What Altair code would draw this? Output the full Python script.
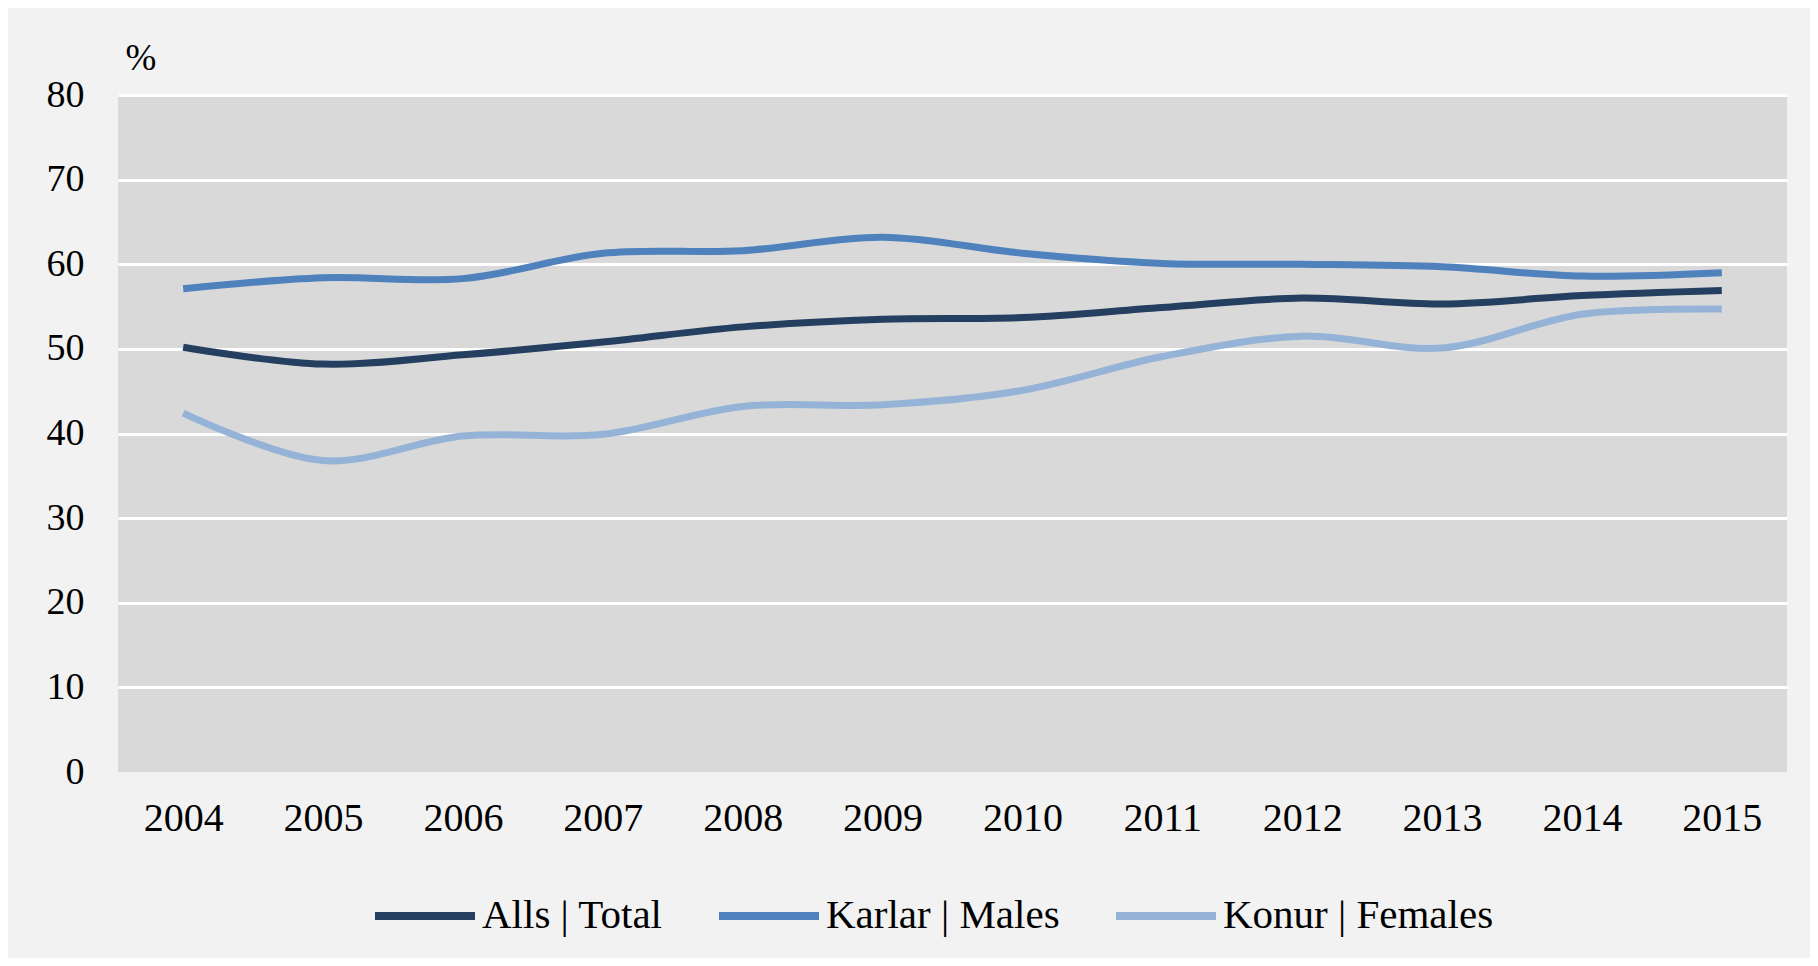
import altair as alt
import pandas as pd

years = ["2004", "2005", "2006", "2007", "2008", "2009", "2010", "2011", "2012", "2013", "2014", "2015"]
total = [50.2, 48.2, 49.3, 50.8, 52.6, 53.5, 53.7, 54.9, 56.0, 55.3, 56.3, 56.9]
males = [57.1, 58.4, 58.3, 61.3, 61.6, 63.2, 61.3, 60.1, 60.0, 59.7, 58.6, 59.0]
females = [42.4, 36.8, 39.7, 39.9, 43.2, 43.4, 45.1, 49.1, 51.5, 50.1, 54.1, 54.7]

series_names = ["Alls | Total", "Karlar | Males", "Konur | Females"]
series_colors = ["#243F60", "#4F81BD", "#95B3D7"]
y_ticks = [0, 10, 20, 30, 40, 50, 60, 70, 80]

rows = []
for name, vals in zip(series_names, [total, males, females]):
    for yr, v in zip(years, vals):
        rows.append({"year": yr, "value": v, "series": name})
df = pd.DataFrame(rows)

FONT = "Liberation Serif"

chart = alt.Chart(df).mark_line(
    interpolate="catmull-rom", strokeWidth=7
).encode(
    x=alt.X("year:O", sort=years,
            scale=alt.Scale(type="point", padding=0.466),
            axis=alt.Axis(title=None, labelAngle=0, domain=False, ticks=False,
                          labelFont=FONT, labelFontSize=40, labelColor="#000000",
                          labelPadding=26, grid=False)),
    y=alt.Y("value:Q", scale=alt.Scale(domain=[0, 80], nice=False),
            axis=alt.Axis(values=y_ticks, title="%", titleAngle=0, titleAlign="left",
                          titleBaseline="alphabetic", titleX=7, titleY=-26,
                          titleFont=FONT, titleFontSize=37, titleFontWeight="normal",
                          titleColor="#000000",
                          domain=False, ticks=False, labelFont=FONT, labelFontSize=38,
                          labelColor="#000000", labelPadding=34,
                          grid=True, gridColor="#FFFFFF", gridWidth=3,
                          gridOpacity={"condition": {"test": "datum.value === 0", "value": 0}, "value": 1})),
    color=alt.Color("series:N",
                    scale=alt.Scale(domain=series_names, range=series_colors),
                    legend=alt.Legend(title=None, orient="none", direction="horizontal",
                                      legendX=253, legendY=767,
                                      symbolType="stroke", symbolSize=10000,
                                      symbolStrokeWidth=8, labelFont=FONT,
                                      labelFontSize=41, labelColor="#000000",
                                      labelLimit=500, labelOffset=3,
                                      columnPadding=40)),
).properties(
    width=1669,
    height=677,
    autosize=alt.AutoSizeParams(type="none"),
    padding={"left": 110, "top": 87, "right": 23, "bottom": 186},
    background="#F2F2F2",
).configure_view(
    fill="#D9D9D9", strokeWidth=0
)

chart.save("out.html", embed_options={"renderer": "svg", "actions": False})
